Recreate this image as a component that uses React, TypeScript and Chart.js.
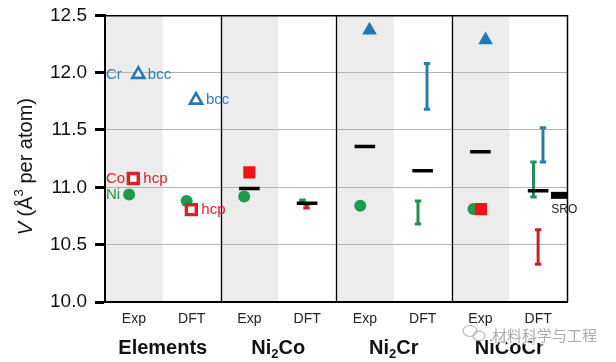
import React, { useEffect, useRef } from 'react';
import { Chart, registerables } from 'chart.js';

Chart.register(...registerables);

// ---------- data ----------
const columnLabels = ['Exp', 'DFT', 'Exp', 'DFT', 'Exp', 'DFT', 'Exp', 'DFT'];
const groupNames = ['Elements', 'Ni|2|Co', 'Ni|2|Cr', 'NiCoCr'];
const yMin = 10.0;
const yMax = 12.5;
const yStep = 0.5;

// Ni (green circles)
const niX = [0.418, 1.414, 2.41, 4.42, 6.38];
const niV = [10.938, 10.88, 10.92, 10.84, 10.81];
// Co (red squares): open = pure element, filled = alloy
const coOpenX = [0.49, 1.495];
const coOpenV = [11.077, 10.805];
const coX = [2.5, 6.51];
const coV = [11.13, 10.81];
// Cr (blue triangles): open = pure element, filled = alloy
const crOpenX = [0.577, 1.576];
const crOpenV = [11.985, 11.76];
const crX = [4.58, 6.59];
const crV = [12.37, 12.285];
// average alloy volume (black bars)
const avgX = [2.5, 3.5, 4.5, 5.5, 6.5, 7.5];
const avgV = [10.99, 10.862, 11.355, 11.145, 11.31, 10.97];
// short-range order
const sroX = [7.866];
const sroV = [10.93];
// DFT ranges
const niRangeX = [3.42, 5.42, 7.42];
const niRangeLo = [10.865, 10.68, 10.915];
const niRangeHi = [10.89, 10.88, 11.22];
const coRangeX = [3.49, 7.5];
const coRangeLo = [10.82, 10.33];
const coRangeHi = [10.852, 10.63];
const crRangeX = [5.576, 7.584];
const crRangeLo = [11.68, 11.22];
const crRangeHi = [12.08, 11.52];

// ---------- style ----------
const FONT = "'Liberation Sans', Arial, Helvetica, sans-serif";
const BLUE = '#2477b6';
const RED = '#f21313';
const RED_OPEN = '#d3232a';
const GREEN = '#1c9a4e';
const BLUE_BAR = '#2a7aab';
const GREEN_BAR = '#238f55';
const RED_BAR = '#c9202d';
const BLUE_TXT = '#2f80bf';
const RED_TXT = '#d8262c';
const GREEN_TXT = '#1f9a4c';

// annotation labels next to element markers
const elementNotes = [
  { text: 'Cr', color: BLUE_TXT, x: 0, y: crOpenV[0], dx: 1 },
  { text: 'bcc', color: BLUE_TXT, x: crOpenX[0], y: crOpenV[0], dx: 9.5 },
  { text: 'bcc', color: BLUE_TXT, x: crOpenX[1], y: crOpenV[1], dx: 10 },
  { text: 'Co', color: RED_TXT, x: 0, y: coOpenV[0], dx: 1 },
  { text: 'hcp', color: RED_TXT, x: coOpenX[0], y: coOpenV[0], dx: 10 },
  { text: 'hcp', color: RED_TXT, x: coOpenX[1], y: coOpenV[1], dx: 10 },
  { text: 'Ni', color: GREEN_TXT, x: 0, y: niV[0], dx: 1 },
];
const sroNote = { text: 'SRO', x: sroX[0], y: sroV[0] };
const watermark = '材料科学与工程';

const pts = (xs: number[], ys: number[]) => xs.map((x, i) => ({ x, y: ys[i] }));
const ranges = (xs: number[], lo: number[], hi: number[]) =>
  xs.flatMap((x, i) => [
    { x, y: lo[i] },
    { x, y: hi[i] },
    { x, y: null as any },
  ]);

const decorPlugin = {
  id: 'decor',
  beforeDraw(chart: any) {
    const { ctx, chartArea: a, scales } = chart;
    const x = scales.x;
    ctx.save();
    ctx.fillStyle = '#ececec';
    columnLabels.forEach((lab, i) => {
      if (lab !== 'Exp') return;
      const l = x.getPixelForValue(i);
      const r = x.getPixelForValue(i + 1);
      ctx.fillRect(l, a.top, r - l, a.bottom - a.top);
    });
    ctx.restore();
  },
  beforeDatasetsDraw(chart: any) {
    const { ctx, chartArea: a, scales } = chart;
    const x = scales.x;
    ctx.save();
    ctx.strokeStyle = '#000';
    ctx.lineWidth = 1.3;
    for (let g = 1; g < groupNames.length; g++) {
      const px = Math.round(x.getPixelForValue(g * 2)) + 0.5;
      ctx.beginPath();
      ctx.moveTo(px, a.top);
      ctx.lineTo(px, a.bottom);
      ctx.stroke();
    }
    ctx.lineWidth = 1.5;
    ctx.beginPath();
    ctx.moveTo(a.left, a.top + 0.5);
    ctx.lineTo(a.right + 0.5, a.top + 0.5);
    ctx.lineTo(a.right + 0.5, a.bottom);
    ctx.stroke();
    ctx.restore();
  },
  afterDraw(chart: any) {
    const { ctx, chartArea: a, scales } = chart;
    const x = scales.x;
    const y = scales.y;
    ctx.save();

    // element notes
    ctx.font = `15px ${FONT}`;
    ctx.textBaseline = 'middle';
    ctx.textAlign = 'left';
    elementNotes.forEach((n) => {
      ctx.fillStyle = n.color;
      ctx.fillText(n.text, x.getPixelForValue(n.x) + n.dx, y.getPixelForValue(n.y));
    });

    // SRO note
    ctx.fillStyle = '#222';
    ctx.font = `12px ${FONT}`;
    ctx.fillText(sroNote.text, x.getPixelForValue(sroNote.x) - 8, y.getPixelForValue(sroNote.y) + 14);

    // group labels (bold, with subscripts)
    groupNames.forEach((name, g) => {
      const parts = name.split('|');
      const big = `bold 20px ${FONT}`;
      const small = `bold 13px ${FONT}`;
      let total = 0;
      parts.forEach((p, i) => {
        ctx.font = i % 2 === 1 ? small : big;
        total += ctx.measureText(p).width;
      });
      let cx = x.getPixelForValue(g * 2 + 1) - total / 2;
      ctx.fillStyle = '#111';
      ctx.textBaseline = 'alphabetic';
      parts.forEach((p, i) => {
        const sub = i % 2 === 1;
        ctx.font = sub ? small : big;
        ctx.fillText(p, cx, sub ? 357.5 : 353.5);
        cx += ctx.measureText(p).width;
      });
    });

    // y-axis title: V (Å³ per atom)
    const tparts = [
      { t: 'V', f: `italic 20px ${FONT}`, dy: 0 },
      { t: ' (Å', f: `20px ${FONT}`, dy: 0 },
      { t: '3', f: `13px ${FONT}`, dy: -9 },
      { t: ' per atom)', f: `20px ${FONT}`, dy: 0 },
    ];
    let tw = 0;
    tparts.forEach((p) => {
      ctx.font = p.f;
      tw += ctx.measureText(p.t).width;
    });
    ctx.save();
    ctx.translate(31.5, (a.top + a.bottom) / 2 + 8);
    ctx.rotate(-Math.PI / 2);
    ctx.fillStyle = '#111';
    ctx.textBaseline = 'alphabetic';
    let tx = -tw / 2;
    tparts.forEach((p) => {
      ctx.font = p.f;
      ctx.fillText(p.t, tx, p.dy);
      tx += ctx.measureText(p.t).width;
    });
    ctx.restore();

    // watermark
    ctx.strokeStyle = 'rgba(175,175,175,0.9)';
    ctx.lineWidth = 1.2;
    ctx.beginPath();
    ctx.ellipse(470, 331, 7, 5.5, 0, 0, Math.PI * 2);
    ctx.stroke();
    ctx.beginPath();
    ctx.ellipse(479, 336, 6, 4.8, 0, 0, Math.PI * 2);
    ctx.stroke();
    ctx.font = `15px 'Noto Sans CJK SC', sans-serif`;
    ctx.textBaseline = 'middle';
    ctx.textAlign = 'left';
    ctx.lineWidth = 3;
    ctx.strokeStyle = 'rgba(255,255,255,0.9)';
    ctx.strokeText(watermark, 492, 335);
    ctx.fillStyle = 'rgba(165,165,165,0.95)';
    ctx.fillText(watermark, 492, 335);

    ctx.restore();
  },
};

export default function App() {
  const ref = useRef<HTMLCanvasElement | null>(null);

  useEffect(() => {
    document.body.style.margin = '0';
    const canvas = ref.current;
    if (!canvas) return;

    const rangeDs = (xs: number[], lo: number[], hi: number[], color: string) => ({
      data: ranges(xs, lo, hi),
      showLine: true,
      spanGaps: false,
      borderColor: color,
      borderWidth: 3,
      pointStyle: 'line',
      pointRadius: 3.2,
      pointBorderWidth: 3,
      pointBorderColor: color,
      pointBackgroundColor: color,
      pointHoverRadius: 3.2,
      order: 4,
    });

    const chart = new Chart(canvas, {
      type: 'scatter',
      data: {
        datasets: [
          {
            data: pts(avgX, avgV),
            pointStyle: 'line',
            pointRadius: 10.3,
            pointBorderWidth: 3.5,
            pointBorderColor: '#000',
            borderColor: '#000',
            order: 0,
          } as any,
          {
            data: pts(sroX, sroV),
            pointStyle: 'line',
            pointRadius: 8.3,
            pointBorderWidth: 7,
            pointBorderColor: '#000',
            borderColor: '#000',
            clip: false,
            order: 0,
          },
          {
            data: pts(coX, coV),
            pointStyle: 'rect',
            pointRadius: 8.6,
            pointBorderWidth: 0,
            pointBackgroundColor: RED,
            order: 1,
          },
          {
            data: pts(coOpenX, coOpenV),
            pointStyle: 'rect',
            pointRadius: 7,
            pointBorderWidth: 3.4,
            pointBorderColor: RED_OPEN,
            pointBackgroundColor: '#fff',
            order: 1,
          },
          {
            data: pts(crX, crV),
            pointStyle: 'triangle',
            pointRadius: 8.5,
            pointBorderWidth: 0,
            pointBackgroundColor: BLUE,
            order: 2,
          },
          {
            data: pts(crOpenX, crOpenV),
            pointStyle: 'triangle',
            pointRadius: 7,
            pointBorderWidth: 2.6,
            pointBorderColor: BLUE,
            pointBackgroundColor: '#fff',
            order: 2,
          },
          {
            data: pts(niX, niV),
            pointStyle: 'circle',
            pointRadius: 6,
            pointBorderWidth: 0,
            pointBackgroundColor: GREEN,
            order: 3,
          },
          rangeDs(niRangeX, niRangeLo, niRangeHi, GREEN_BAR),
          rangeDs(coRangeX, coRangeLo, coRangeHi, RED_BAR),
          rangeDs(crRangeX, crRangeLo, crRangeHi, BLUE_BAR),
        ] as any,
      },
      options: {
        animation: false,
        responsive: false,
        devicePixelRatio: 1,
        events: [],
        layout: { padding: { top: 8, right: 49, left: 0, bottom: 0 } },
        plugins: {
          legend: { display: false },
          tooltip: { enabled: false },
          title: { display: false },
        },
        scales: {
          x: {
            type: 'linear',
            min: 0,
            max: columnLabels.length,
            grid: { display: false, drawTicks: false },
            border: { display: true, color: '#000', width: 2 },
            afterBuildTicks: (scale: any) => {
              scale.ticks = columnLabels.map((_, i) => ({ value: i + 0.5 }));
            },
            afterFit: (scale: any) => {
              scale.height = 60;
              scale.paddingLeft = 0;
              scale.paddingRight = 0;
            },
            ticks: {
              autoSkip: false,
              maxRotation: 0,
              padding: 9,
              color: '#222',
              font: { family: FONT, size: 14 },
              callback: (_v: any, i: number) => columnLabels[i],
            },
          },
          y: {
            type: 'linear',
            min: yMin,
            max: yMax,
            grid: {
              color: (c: any) =>
                c.tick && (c.tick.value <= yMin + 1e-6 || c.tick.value >= yMax - 1e-6)
                  ? 'rgba(0,0,0,0)'
                  : '#b3b3b3',
              lineWidth: 1,
              tickColor: '#000',
              tickWidth: 3,
              tickLength: 10,
            },
            border: { display: true, color: '#000', width: 2 },
            afterFit: (scale: any) => {
              scale.width = 105;
              scale.paddingTop = 0;
              scale.paddingBottom = 0;
            },
            ticks: {
              stepSize: yStep,
              padding: 8,
              color: '#111',
              font: { family: FONT, size: 19 },
              callback: (v: any) => Number(v).toFixed(1),
            },
          },
        },
      } as any,
      plugins: [decorPlugin],
    });

    return () => chart.destroy();
  }, []);

  return (
    <div style={{ width: 616, height: 362 }}>
      <canvas ref={ref} width={616} height={362} style={{ display: 'block' }} />
    </div>
  );
}
